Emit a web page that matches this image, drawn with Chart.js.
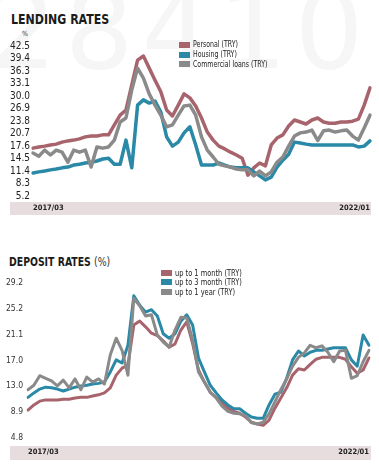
<!DOCTYPE html>
<html>
<head>
<meta charset="utf-8">
<script src="https://cdn.jsdelivr.net/npm/chart.js@4.4.0/dist/chart.umd.min.js"></script>
<style>
  html, body { margin: 0; padding: 0; background: #fff; }
  body { width: 379px; height: 474px; position: relative; overflow: hidden;
         font-family: 'Liberation Sans Narrow', 'DejaVu Sans Condensed', sans-serif; }
  .wm { position: absolute; left: -12px; top: -32px; font-size: 108px; font-weight: normal; color: #f6f6f6;
        letter-spacing: 8px; white-space: nowrap; font-family: 'DejaVu Sans', sans-serif; }
  canvas { position: absolute; left: 0; }
  .title { position: absolute; font-weight: bold; color: #1b1b1b; line-height: 1; white-space: nowrap;
           transform-origin: left top; }
  .title .thin { font-weight: normal; color: #333; }
  .pct { position: absolute; left: 22px; top: 30px; font-size: 7px; color: #333; }
  .legend { position: absolute; color: #222; white-space: nowrap; }
  .legend .row { display: flex; align-items: center; }
  .legend .sw { display: inline-block; flex: none; }
  .legend .txt { display: inline-block; transform: scaleX(0.87); transform-origin: left center; }
</style>
</head>
<body>
<div class="wm">28410</div>
<div class="title" style="left:11px; top:12px; font-size:14px; transform:scaleX(0.875);">LENDING RATES</div>
<div class="pct">%</div>
<canvas id="lend" width="379" height="230" style="top:0;"></canvas>
<div id="lendLegend" class="legend" style="left:179px; top:40px; font-size:8px;"></div>

<div class="title" style="left:9px; top:256px; font-size:12.5px; transform:scaleX(0.83);">DEPOSIT RATES <span class="thin">(%)</span></div>
<canvas id="dep" width="379" height="234" style="top:240px;"></canvas>
<div id="depLegend" class="legend" style="left:161px; top:268px; font-size:8.5px;"></div>

<script>
// monthly points, 2017/03 - 2022/01
const months = [
  '2017/03','2017/04','2017/05','2017/06','2017/07','2017/08','2017/09','2017/10','2017/11','2017/12',
  '2018/01','2018/02','2018/03','2018/04','2018/05','2018/06','2018/07','2018/08','2018/09','2018/10','2018/11','2018/12',
  '2019/01','2019/02','2019/03','2019/04','2019/05','2019/06','2019/07','2019/08','2019/09','2019/10','2019/11','2019/12',
  '2020/01','2020/02','2020/03','2020/04','2020/05','2020/06','2020/07','2020/08','2020/09','2020/10','2020/11','2020/12',
  '2021/01','2021/02','2021/03','2021/04','2021/05','2021/06','2021/07','2021/08','2021/09','2021/10','2021/11','2021/12',
  '2022/01'
];

// lending rates (%)
const personal = [17.1, 17.4, 17.6, 17.9, 18.1, 18.6, 18.9, 19.1, 19.4, 19.9, 20.1, 20.1, 20.4, 20.4, 22.9, 25.3, 26.6, 32.8, 39.0, 40.0,
  37.0, 34.0, 31.1, 26.6, 25.1, 27.8, 30.6, 29.6, 27.6, 24.6, 21.1, 19.1, 17.6, 16.9, 16.1, 15.4, 14.6, 10.4, 12.2, 13.4,
  12.7, 17.9, 19.6, 20.4, 22.6, 24.1, 23.6, 23.1, 24.1, 24.6, 23.6, 23.3, 23.3, 23.6, 23.6, 23.8, 24.3, 27.8, 32.1];
const housing = [10.9, 11.2, 11.4, 11.7, 11.9, 12.2, 12.4, 12.9, 13.1, 13.4, 13.6, 13.9, 14.4, 14.6, 13.1, 13.1, 19.1, 12.2, 27.8, 29.1,
  28.3, 28.8, 26.1, 19.9, 17.6, 18.6, 20.9, 22.4, 17.9, 12.9, 12.9, 12.9, 13.4, 12.9, 12.4, 12.2, 12.2, 12.2, 11.2, 10.2,
  9.2, 9.9, 12.4, 14.1, 15.6, 18.6, 18.4, 18.1, 17.9, 17.9, 17.9, 17.9, 17.9, 17.9, 17.9, 17.9, 17.4, 17.6, 18.9];
const commercial = [15.9, 15.1, 16.6, 15.4, 16.6, 16.1, 13.6, 16.6, 16.1, 16.6, 12.4, 17.4, 17.1, 17.4, 19.1, 23.6, 24.6, 31.6, 37.0, 34.5,
  30.6, 27.8, 25.3, 22.4, 22.9, 25.3, 27.6, 27.8, 25.3, 19.9, 16.6, 14.9, 13.1, 12.7, 12.4, 11.9, 11.7, 11.7, 10.2, 11.4,
  10.2, 11.2, 13.6, 14.9, 17.6, 20.1, 20.9, 21.1, 21.6, 19.0, 21.4, 21.6, 21.1, 21.4, 21.6, 20.1, 19.1, 22.1, 25.3];

// deposit rates (%)
const oneMonth = [9.2, 10.0, 10.6, 10.8, 10.8, 10.8, 10.9, 10.9, 11.1, 11.2, 11.2, 11.4, 11.6, 11.9, 12.7, 14.7, 15.8, 16.3, 22.6, 23.2,
  22.3, 21.3, 20.9, 20.1, 19.1, 19.6, 21.8, 23.1, 19.7, 15.5, 13.6, 12.0, 11.2, 10.3, 9.5, 9.0, 8.7, 8.1, 7.3, 7.0,
  6.8, 7.6, 9.5, 11.1, 12.7, 14.7, 15.7, 15.5, 16.4, 17.2, 17.5, 17.5, 17.5, 17.5, 17.2, 16.0, 15.0, 15.5, 17.4];
const threeMonth = [11.2, 11.9, 12.5, 12.8, 12.7, 12.5, 12.2, 12.5, 12.8, 13.0, 13.1, 13.3, 13.4, 13.6, 15.2, 17.1, 16.6, 19.4, 27.2, 25.7,
  24.6, 25.0, 24.0, 21.2, 20.5, 21.2, 23.2, 24.2, 22.6, 17.4, 15.2, 13.1, 11.9, 10.8, 10.0, 9.4, 9.4, 8.7, 8.1, 7.9,
  7.9, 10.0, 11.7, 12.0, 14.2, 17.1, 18.5, 17.7, 18.3, 18.6, 18.6, 18.8, 19.0, 19.0, 19.0, 17.1, 16.1, 21.0, 19.4];
const oneYear = [12.4, 13.1, 14.6, 14.2, 13.8, 13.0, 13.9, 12.7, 14.1, 12.4, 14.4, 13.6, 14.1, 13.3, 17.9, 20.5, 18.6, 14.7, 26.8, 25.6,
  24.0, 24.2, 21.0, 19.9, 19.1, 21.8, 23.8, 23.7, 20.2, 15.2, 13.6, 12.0, 11.1, 9.8, 9.0, 8.7, 8.6, 8.3, 7.2, 7.0,
  7.3, 8.6, 10.5, 12.4, 14.1, 16.1, 17.5, 18.2, 19.4, 19.0, 19.3, 18.3, 16.8, 18.5, 18.6, 14.2, 14.6, 16.8, 18.6];

// y tick labels
const lendingTicks = [42.5, 39.4, 36.3, 33.1, 30.0, 26.9, 23.8, 20.7, 17.6, 14.5, 11.4, 8.3, 5.2];
const depositTicks = [29.2, 25.2, 21.1, 17.0, 13.0, 8.9, 4.8];

const ROSE = '#a8646c';
const TEAL = '#2a89a6';
const GREY = '#8a8a8a';
const FONT = "'Liberation Sans Narrow', 'DejaVu Sans Condensed', sans-serif";

// grey band behind the date labels
const bandPlugin = {
    id: 'band',
    beforeDraw(chart, args, opts) {
        const { ctx, chartArea } = chart;
        ctx.save();
        ctx.fillStyle = '#e7dcde';
        ctx.fillRect(opts.left, chartArea.bottom + opts.gap, opts.right - opts.left, opts.height);
        ctx.restore();
    }
};

function makeChart(id, datasets, ticks, cfg) {
    return new Chart(document.getElementById(id), {
        type: 'line',
        data: { labels: months, datasets: datasets },
        options: {
            responsive: false,
            animation: false,
            layout: { padding: { top: cfg.top, left: 0, right: cfg.right, bottom: cfg.bottom } },
            plugins: {
                legend: { display: false },
                tooltip: { enabled: false },
                band: cfg.band
            },
            elements: {
                point: { radius: 0 },
                line: { tension: 0, borderJoinStyle: 'round', borderCapStyle: 'round' }
            },
            scales: {
                x: {
                    offset: false,
                    grid: { display: false, drawTicks: false },
                    border: { display: false },
                    ticks: {
                        autoSkip: false,
                        maxRotation: 0,
                        align: 'inner',
                        padding: cfg.xPad,
                        color: '#222',
                        font: { family: FONT, size: 7.5, weight: 'bold' },
                        callback: function(v, i, arr) {
                            return (i === 0 || i === arr.length - 1) ? this.getLabelForValue(v) : '';
                        }
                    },
                    afterFit: (s) => { s.height = cfg.xHeight; }
                },
                y: {
                    min: ticks[ticks.length - 1],
                    max: ticks[0],
                    grid: { display: false, drawTicks: false },
                    border: { display: false },
                    afterBuildTicks: (s) => { s.ticks = ticks.map(v => ({ value: v })); },
                    ticks: {
                        autoSkip: false,
                        padding: cfg.yPad,
                        color: cfg.yColor,
                        font: { family: FONT, size: cfg.ySize },
                        callback: (v) => Number(v).toFixed(1)
                    },
                    afterFit: (s) => { s.width = cfg.yWidth; }
                }
            }
        },
        plugins: [bandPlugin]
    });
}

function buildLegend(elId, chart, sw) {
    const el = document.getElementById(elId);
    el.innerHTML = chart.data.datasets.map(d =>
        `<div class="row" style="height:${sw.pitch}px"><span class="sw" style="width:${sw.w}px;height:${sw.h}px;margin-right:${sw.gap}px;background:${d.borderColor}"></span><span class="txt">${d.label}</span></div>`
    ).join('');
}

const lendChart = makeChart('lend', [
    { label: 'Personal (TRY)', data: personal, borderColor: ROSE, backgroundColor: ROSE, borderWidth: 3.5, order: 2 },
    { label: 'Housing (TRY)', data: housing, borderColor: TEAL, backgroundColor: TEAL, borderWidth: 3.5, order: 1 },
    { label: 'Commercial loans (TRY)', data: commercial, borderColor: GREY, backgroundColor: GREY, borderWidth: 3.5, order: 0 }
], lendingTicks, {
    top: 46, right: 9, bottom: 12, xHeight: 22, xPad: 8, yWidth: 33, yPad: 3, ySize: 10, yColor: '#222',
    band: { left: 10, right: 371, gap: 6, height: 13 }
});

const depChart = makeChart('dep', [
    { label: 'up to 1 month (TRY)', data: oneMonth, borderColor: ROSE, backgroundColor: ROSE, borderWidth: 3, order: 2 },
    { label: 'up to 3 month (TRY)', data: threeMonth, borderColor: TEAL, backgroundColor: TEAL, borderWidth: 3, order: 1 },
    { label: 'up to 1 year (TRY)', data: oneYear, borderColor: GREY, backgroundColor: GREY, borderWidth: 3, order: 0 }
], depositTicks, {
    top: 43, right: 10, bottom: 14, xHeight: 22, xPad: 10, yWidth: 28, yPad: 5, ySize: 8.5, yColor: '#333',
    band: { left: 10, right: 371, gap: 8, height: 14 }
});

buildLegend('lendLegend', lendChart, { w: 11, h: 6, gap: 3, pitch: 9.75 });
buildLegend('depLegend', depChart, { w: 11, h: 6, gap: 3, pitch: 9.6 });
</script>
</body>
</html>
